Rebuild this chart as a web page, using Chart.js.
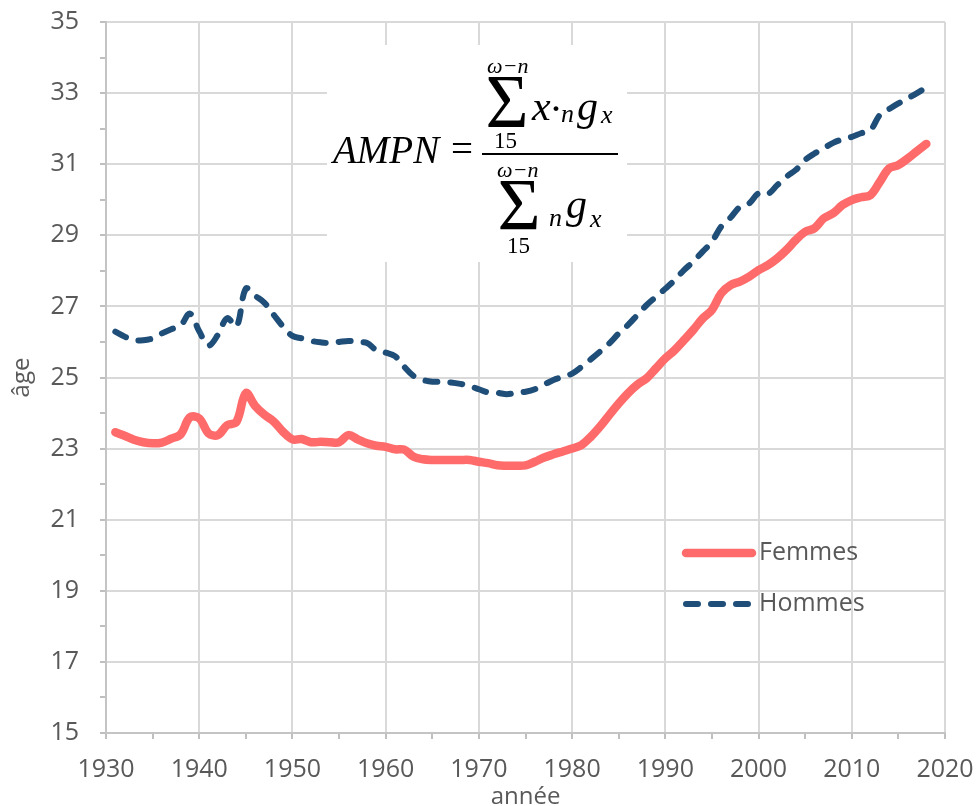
<!DOCTYPE html>
<html>
<head>
<meta charset="utf-8">
<script src="https://cdn.jsdelivr.net/npm/chart.js@4.4.1/dist/chart.umd.min.js"></script>
<style>
    body { margin: 0; background: #fff; }
    #box { width: 978px; height: 806px; }
</style>
</head>
<body>
<div id="box"><canvas id="chart" width="978" height="806"></canvas></div>
<script>
var annees = [
    1931, 1932, 1933, 1934, 1935, 1936, 1937, 1938, 1939, 1940,
    1941, 1942, 1943, 1944, 1945, 1946, 1947, 1948, 1949, 1950,
    1951, 1952, 1953, 1954, 1955, 1956, 1957, 1958, 1959, 1960,
    1961, 1962, 1963, 1964, 1965, 1966, 1967, 1968, 1969, 1970,
    1971, 1972, 1973, 1974, 1975, 1976, 1977, 1978, 1979, 1980,
    1981, 1982, 1983, 1984, 1985, 1986, 1987, 1988, 1989, 1990,
    1991, 1992, 1993, 1994, 1995, 1996, 1997, 1998, 1999, 2000,
    2001, 2002, 2003, 2004, 2005, 2006, 2007, 2008, 2009, 2010,
    2011, 2012, 2013, 2014, 2015, 2016, 2017, 2018
];
var femmes = [
    23.46, 23.36, 23.25, 23.18, 23.15, 23.17, 23.28, 23.40, 23.88, 23.85,
    23.43, 23.38, 23.66, 23.75, 24.56, 24.20, 23.95, 23.76, 23.47, 23.26,
    23.27, 23.18, 23.19, 23.18, 23.18, 23.38, 23.26, 23.15, 23.08, 23.05,
    22.98, 22.97, 22.77, 22.70, 22.68, 22.68, 22.68, 22.68, 22.68, 22.63,
    22.59, 22.53, 22.52, 22.52, 22.53, 22.63, 22.75, 22.84, 22.92, 23.00,
    23.10, 23.33, 23.62, 23.95, 24.27, 24.56, 24.80, 24.98, 25.26, 25.54,
    25.77, 26.05, 26.34, 26.66, 26.90, 27.37, 27.60, 27.70, 27.84, 28.02,
    28.16, 28.35, 28.59, 28.87, 29.10, 29.20, 29.48, 29.62, 29.85, 29.99,
    30.07, 30.13, 30.50, 30.88, 30.98, 31.16, 31.37, 31.57
];
var hommes = [
    26.29, 26.15, 26.05, 26.05, 26.10, 26.24, 26.36, 26.46, 26.80, 26.30,
    25.90, 26.20, 26.67, 26.43, 27.50, 27.30, 27.10, 26.76, 26.43, 26.17,
    26.10, 26.03, 25.99, 25.97, 26.00, 26.03, 26.00, 25.97, 25.77, 25.70,
    25.60, 25.30, 25.04, 24.93, 24.88, 24.88, 24.86, 24.82, 24.76, 24.67,
    24.58, 24.57, 24.53, 24.57, 24.60, 24.67, 24.80, 24.93, 25.02, 25.11,
    25.30, 25.51, 25.73, 25.96, 26.24, 26.48, 26.76, 27.04, 27.27, 27.50,
    27.74, 28.02, 28.26, 28.54, 28.82, 29.25, 29.50, 29.80, 29.90, 30.18,
    30.16, 30.41, 30.65, 30.84, 31.12, 31.30, 31.45, 31.60, 31.70, 31.77,
    31.87, 31.96, 32.38, 32.55, 32.71, 32.85, 33.00, 33.16
];
var nomsSeries = ['Femmes', 'Hommes'];

var gris = '#595959';
var grille = '#d9d9d9';
var police = '"Open Sans", sans-serif';
var serif = '"Liberation Serif", serif';

function points(valeurs) {
    var res = [];
    for (var i = 0; i < annees.length; i++) {
        res.push({ x: annees[i], y: valeurs[i] });
    }
    return res;
}

// dessine un texte étiré pour remplir une boîte (pour les grands sigma)
function texteCadre(ctx, txt, font, x, y, w, h) {
    ctx.font = font;
    var m = ctx.measureText(txt);
    var bw = m.actualBoundingBoxLeft + m.actualBoundingBoxRight;
    var bh = m.actualBoundingBoxAscent + m.actualBoundingBoxDescent;
    ctx.save();
    ctx.translate(x, y);
    ctx.scale(w / bw, h / bh);
    ctx.fillText(txt, m.actualBoundingBoxLeft, m.actualBoundingBoxAscent);
    ctx.restore();
}

var formule = {
    id: 'formule',
    afterDraw: function (chart) {
        var ctx = chart.ctx;
        ctx.save();
        ctx.fillStyle = '#fff';
        ctx.fillRect(327, 45, 300, 217);
        ctx.fillStyle = '#000';
        ctx.textAlign = 'left';
        ctx.textBaseline = 'alphabetic';

        ctx.font = 'italic 39px ' + serif;
        ctx.fillText('AMPN', 333, 163);
        ctx.font = '39px ' + serif;
        ctx.fillText('=', 451, 162);

        ctx.fillRect(482, 153, 136, 2);

        // numérateur
        ctx.font = 'italic 22px ' + serif;
        ctx.fillText('\u03C9\u2212n', 487, 73);
        texteCadre(ctx, '\u03A3', '60px ' + serif, 488, 78, 37, 49);
        ctx.font = '23px ' + serif;
        ctx.fillText('15', 494, 148);
        ctx.font = 'italic 42px ' + serif;
        ctx.fillText('x', 532, 120);
        ctx.font = 'bold 30px ' + serif;
        ctx.fillText('\u00B7', 551, 118);
        ctx.font = 'italic 26px ' + serif;
        ctx.fillText('n', 561, 122);
        ctx.font = 'italic 42px ' + serif;
        ctx.fillText('g', 577, 120);
        ctx.font = 'italic 26px ' + serif;
        ctx.fillText('x', 601, 123);

        // dénominateur
        ctx.font = 'italic 22px ' + serif;
        ctx.fillText('\u03C9\u2212n', 497, 177);
        texteCadre(ctx, '\u03A3', '60px ' + serif, 500, 182, 37, 48);
        ctx.font = '23px ' + serif;
        ctx.fillText('15', 507, 253);
        ctx.font = 'italic 26px ' + serif;
        ctx.fillText('n', 549, 226);
        ctx.font = 'italic 42px ' + serif;
        ctx.fillText('g', 566, 218);
        ctx.font = 'italic 26px ' + serif;
        ctx.fillText('x', 590, 227);
        ctx.restore();
    }
};

var legende = {
    id: 'legende',
    afterDraw: function (chart) {
        var ctx = chart.ctx;
        var lignes = [553, 604];
        ctx.save();
        chart.data.datasets.forEach(function (ds, i) {
            var y = lignes[i];
            ctx.beginPath();
            ctx.strokeStyle = ds.borderColor;
            ctx.lineWidth = ds.borderWidth;
            ctx.lineCap = 'round';
            ctx.setLineDash(ds.borderDash || []);
            ctx.moveTo(686, y);
            ctx.lineTo(752, y);
            ctx.stroke();
            ctx.setLineDash([]);
            ctx.fillStyle = gris;
            ctx.font = '25px ' + police;
            ctx.textAlign = 'left';
            ctx.textBaseline = 'middle';
            ctx.fillText(ds.label, 759, y);
        });
        ctx.restore();
    }
};

var datos = {
    type: 'line',
    data: {
        datasets: [{
            label: nomsSeries[0],
            data: points(femmes),
            borderColor: '#ff6b6b',
            borderWidth: 8.5,
            borderCapStyle: 'round',
            borderJoinStyle: 'round',
            pointRadius: 0,
            tension: 0.35
        }, {
            label: nomsSeries[1],
            data: points(hommes),
            borderColor: '#1f4e79',
            borderWidth: 6,
            borderDash: [12, 13],
            borderCapStyle: 'round',
            borderJoinStyle: 'round',
            pointRadius: 0,
            tension: 0.35
        }]
    },
    options: {
        responsive: false,
        animation: false,
        layout: {
            padding: { top: 22, right: 33, left: 0, bottom: 0 }
        },
        plugins: {
            legend: { display: false },
            tooltip: { enabled: false }
        },
        scales: {
            x: {
                type: 'linear',
                min: 1930,
                max: 2020,
                afterFit: function (scale) {
                    scale.height = 73;
                    scale.paddingLeft = 0;
                    scale.paddingRight = 0;
                },
                ticks: {
                    stepSize: 5,
                    autoSkip: false,
                    maxRotation: 0,
                    padding: 16,
                    color: gris,
                    font: { family: police, size: 25 },
                    callback: function (v) { return v % 10 === 0 ? String(v) : ''; }
                },
                grid: {
                    lineWidth: 2,
                    color: function (c) { return c.tick && c.tick.value % 10 === 0 ? grille : 'rgba(0,0,0,0)'; },
                    tickColor: '#bfbfbf',
                    tickLength: 6
                },
                border: { color: '#c4c4c4', width: 2 },
                title: {
                    display: true,
                    text: 'année',
                    color: gris,
                    font: { family: police, size: 24, lineHeight: 0.75 },
                    padding: { top: 0, bottom: 0 }
                }
            },
            y: {
                min: 15,
                max: 35,
                afterFit: function (scale) {
                    scale.width = 106;
                    scale.paddingTop = 0;
                    scale.paddingBottom = 0;
                },
                ticks: {
                    stepSize: 1,
                    autoSkip: false,
                    padding: 21,
                    color: gris,
                    font: { family: police, size: 25 },
                    callback: function (v) { return v % 2 === 1 ? String(v) : ''; }
                },
                grid: {
                    lineWidth: 2,
                    color: function (c) { return c.tick && c.tick.value % 2 === 1 ? grille : 'rgba(0,0,0,0)'; },
                    tickColor: '#bfbfbf',
                    tickLength: 6
                },
                border: { color: '#c4c4c4', width: 2 },
                title: {
                    display: true,
                    text: 'âge',
                    color: gris,
                    font: { family: police, size: 24 },
                    padding: { top: 8, bottom: 0 }
                }
            }
        }
    },
    plugins: [formule, legende]
};

var canvas = document.getElementById('chart').getContext('2d');
window.grafico = new Chart(canvas, datos);
</script>
</body>
</html>
